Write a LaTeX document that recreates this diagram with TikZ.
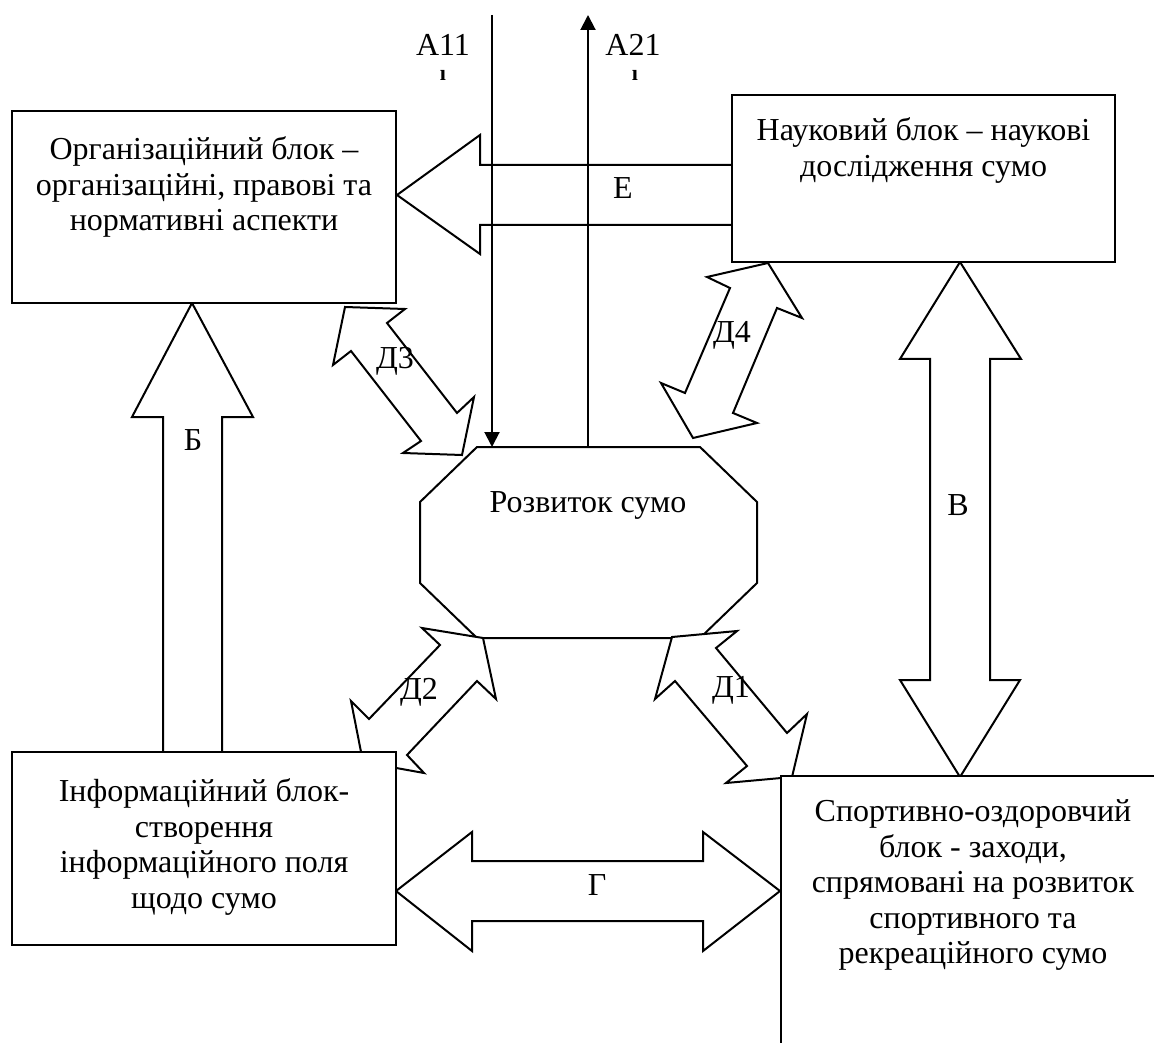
\documentclass[tikz,border=0pt]{standalone}
\usepackage{fontspec}
\setmainfont{Liberation Serif}
\usetikzlibrary{positioning,arrows.meta}

\begin{document}
\begin{tikzpicture}[x=0.5pt,y=-0.5pt,line width=1pt,
    box/.style={draw,fill=white,rectangle,inner sep=0pt},
    blockarrow/.style={draw,fill=white,line join=miter},
    every node/.style={font=\fontsize{16pt}{17.75pt}\selectfont}]
    \tikzstyle{txt}=[align=center,inner sep=0pt]
    \tikzstyle{lbl}=[inner sep=0pt]
    \tikzstyle{tip}=[-{Triangle[length=7.5pt,width=7.5pt]}]

  \useasboundingbox (0,0) rectangle (1154,1042);
  \clip (0,0) rectangle (1154,1042);

  % arrow E
  \draw[blockarrow] (397,195) -- (480,135) -- (480,165) -- (732,165) -- (732,225)
    -- (480,225) -- (480,254) -- cycle;

  % inputs / outputs
  \coordinate (a11) at (492,15);
  \coordinate (a21) at (588,15);
  \coordinate (rozvin) at (492,447);
  \coordinate (rozvout) at (588,447);
  \draw[tip] (a11) -- (rozvin);
  \draw[tip] (rozvout) -- (a21);

  % arrows B, V, G
  \draw[blockarrow] (192,303) -- (253,417) -- (222,417) -- (222,752) -- (163,752)
    -- (163,417) -- (132,417) -- cycle;
  \draw[blockarrow] (960,262) -- (1021,359) -- (990,359) -- (990,680) -- (1020,680)
    -- (960,777) -- (900,680) -- (930,680) -- (930,359) -- (900,359) -- cycle;
  \draw[blockarrow] (396,891) -- (472,832) -- (472,861) -- (703,861) -- (703,832)
    -- (780,891) -- (703,951) -- (703,921) -- (472,921) -- (472,951) -- cycle;

  % centre
  \draw[blockarrow] (477,447) -- (700,447) -- (757,502) -- (757,583) -- (700,638)
    -- (477,638) -- (420,583) -- (420,502) -- cycle;
  \node[lbl,anchor=base] (rozv) at (588,512) {Розвиток сумо};

  % arrows D1..D4
  \draw[blockarrow] (345,307) -- (405,309) -- (387,323) -- (457,413) -- (474,397)
    -- (462,455) -- (403,453) -- (421,441) -- (351,351) -- (333,365) -- cycle;
  \draw[blockarrow] (768,263) -- (802,318) -- (777,308) -- (733,413) -- (757,423)
    -- (693,438) -- (661,383) -- (685,393) -- (730,288) -- (707,277) -- cycle;
  \draw[blockarrow] (483,638) -- (496,699) -- (477,681) -- (407,755) -- (424,773)
    -- (363,762) -- (351,701) -- (369,719) -- (440,645) -- (422,628) -- cycle;
  \draw[blockarrow] (672,637) -- (737,631) -- (716,648) -- (787,733) -- (807,714)
    -- (792,777) -- (726,783) -- (747,766) -- (675,681) -- (655,699) -- cycle;

  % blocks
  \node[box,minimum width=192pt,minimum height=96pt] (org) at (204,207) {};
  \node[box,minimum width=191.5pt,minimum height=83.5pt] (nauk) at (923.5,178.5) {};
  \node[box,minimum width=192pt,minimum height=96.5pt] (info) at (204,848.5) {};
  \node[box,minimum width=192pt,minimum height=142pt] (sport) at (973,918) {};

  \node[txt,below=12pt of org.north] (orgtxt)
    {\strut Організаційний блок –\\організаційні, правові та\\нормативні аспекти};
  \node[txt,below=10.5pt of nauk.north] (nauktxt)
    {\strut Науковий блок – наукові\\дослідження сумо};
  \node[txt,below=12.5pt of info.north] (infotxt)
    {\strut Інформаційний блок-\\створення\\інформаційного поля\\щодо сумо};
  \node[txt,below=10.5pt of sport.north] (sporttxt)
    {\strut Спортивно-оздоровчий\\блок - заходи,\\спрямовані на розвиток\\спортивного та\\рекреаційного сумо};

  % labels
  \node[lbl] (la11) at (443,45) {А11};
  \node[lbl] (la21) at (633,45) {А21};
  \node[lbl,font=\fontsize{11pt}{12pt}\selectfont\bfseries] (la11i) at (443,75) {ı};
  \node[lbl,font=\fontsize{11pt}{12pt}\selectfont\bfseries] (la21i) at (635,75) {ı};
  \node[lbl] (le) at (623,188) {Е};
  \node[lbl] (lb) at (193,440) {Б};
  \node[lbl] (lv) at (958,505) {В};
  \node[lbl] (lg) at (597,885) {Г};
  \node[lbl] (ld1) at (731,690) {Д1};
  \node[lbl] (ld2) at (419,692) {Д2};
  \node[lbl] (ld3) at (395,361) {Д3};
  \node[lbl] (ld4) at (732,335) {Д4};

\end{tikzpicture}
\end{document}
